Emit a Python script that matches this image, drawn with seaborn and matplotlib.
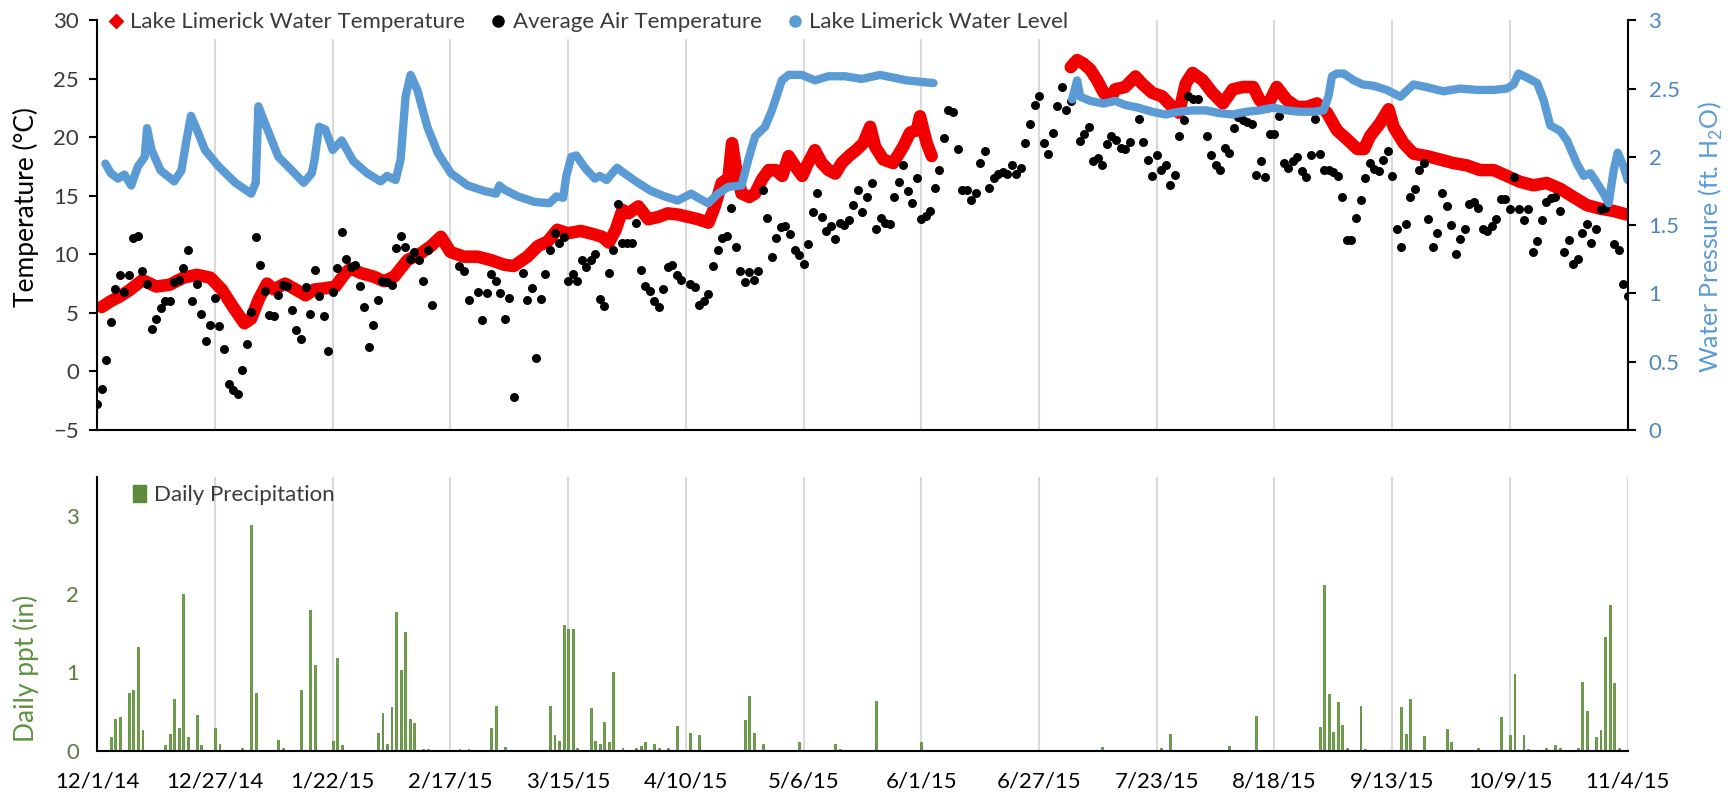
import pandas as pd
import seaborn as sns
import matplotlib.pyplot as plt
from matplotlib.lines import Line2D
from matplotlib.patches import Patch
from matplotlib.ticker import MultipleLocator

# x values are days since 12/1/14
date_labels = ['12/1/14', '12/27/14', '1/22/15', '2/17/15', '3/15/15', '4/10/15', '5/6/15',
               '6/1/15', '6/27/15', '7/23/15', '8/18/15', '9/13/15', '10/9/15', '11/4/15']
tick_days = [26 * i for i in range(len(date_labels))]

# average air temperature, one value per day (None = no reading)
air_temp_c = [
    -2.8, -1.5, 1.0, 4.2, 7.0, 8.25, 6.8, 8.2, 11.4, 11.6, 8.6, 7.5, 3.6,
    4.5, 5.4, 6.0, 6.0, 7.6, 7.8, 8.85, 10.4, 6.05, 7.5, 4.9, 2.55, 4.0,
    6.3, 3.9, 1.9, -1.1, -1.6, -1.9, 0.1, 2.3, 5.05, 11.5, 9.1, 6.9, 4.8,
    4.7, 6.5, 7.4, 7.3, 5.2, 3.5, 2.75, 7.25, 4.9, 8.7, 6.45, 4.7, 1.7,
    6.8, 8.85, 11.9, 9.6, 8.9, 9.1, 7.3, 5.5, 2.1, 4.0, 6.1, 7.7, 7.6,
    7.4, 10.5, 11.6, 10.6, 9.6, 10.2, 9.5, 7.7, 10.4, 5.7, None, None, None,
    None, None, 9.0, 8.6, 6.1, None, 6.8, 4.4, 6.7, 8.3, 7.7, 6.7, 4.5,
    6.3, -2.2, None, 8.4, 6.1, 7.1, 1.1, 6.2, 8.3, 10.4, 11.8, 11.0, 11.5,
    7.7, 8.3, 7.7, 9.5, 8.9, 9.5, 10.0, 6.2, 5.6, 8.4, 10.4, 14.3, 11.0,
    11.0, 11.0, 12.7, 8.7, 7.3, 6.9, 6.05, 5.5, 7.0, 8.9, 9.1, 8.2, 7.8,
    None, 7.5, 7.2, 5.7, 6.0, 6.6, 9.0, 10.4, 11.4, 11.6, 14.0, 10.6, 8.6,
    7.6, 8.45, 7.8, 8.6, 15.5, 13.1, 9.8, 11.4, 12.3, 12.4, 11.7, 10.4, 9.9,
    9.2, 10.9, 13.6, 15.2, 13.2, 12.0, 12.4, 11.3, 12.7, 12.5, 12.9, 14.2, 15.5,
    13.6, 14.9, 16.1, 12.2, 13.1, 12.7, 12.6, 14.9, 16.2, 17.6, 15.4, 14.4, 16.5,
    13.0, 13.3, 13.7, 15.7, 17.2, 19.9, 22.3, 22.2, 19.0, 15.5, 15.5, 14.6, 15.2,
    17.8, 18.8, 15.7, 16.5, 16.9, 17.0, 16.9, 17.6, 16.9, 17.4, 19.5, 21.1, 22.8,
    23.5, 19.5, 18.6, 20.4, 22.7, 24.3, 22.3, 23.1, None, 19.7, 20.3, 20.9, 18.0,
    18.2, 17.6, 19.4, 20.1, 19.8, 19.1, 19.0, 19.6, None, 21.6, 19.6, 18.1, 16.7,
    18.5, 17.2, 17.6, 15.9, 16.8, 20.1, 21.5, 23.5, 23.3, 23.3, None, 20.1, 18.5,
    17.6, 17.2, 19.1, 18.7, 20.8, 21.7, 21.5, 21.3, 21.1, 16.8, 18.0, 16.6, 20.3,
    20.3, 21.8, 17.8, 17.4, 18.0, 18.3, 17.1, 16.6, 18.5, 21.6, 18.6, 17.2, 17.2,
    17.0, 16.7, 14.9, 11.2, 11.2, 13.1, 14.6, 16.5, 17.8, 17.3, 17.1, 18.1, 18.8,
    16.7, 12.2, 10.6, 12.6, 14.9, 15.6, 17.2, 17.8, 13.0, 10.6, 11.8, 15.2, 14.1,
    12.5, 10.0, 11.3, 12.2, 14.3, 14.5, 14.0, 12.2, 12.0, 12.4, 13.0, 14.7, 14.7,
    13.9, 16.6, 13.9, 12.9, 13.9, 10.2, 11.1, 12.9, 14.5, 14.8, 14.9, 13.7, 10.2,
    11.2, 9.2, 9.6, 11.8, 12.6, 11.0, 12.2, 13.9, 14.0, None, 10.9, 10.4, 7.5,
    6.4,
]

# lake water temperature, logger record in two pieces
water_temp_day_1 = [1, 3, 5, 7, 10, 13, 16, 19, 22, 25, 27.5, 30, 32.5, 34, 35.6, 37.5, 39, 41.5,
                    43.8, 46, 48, 50.4, 52.6, 54.8, 56, 58.2, 61, 63.4, 65.6, 68.5, 71.5, 73.7,
                    75.9, 78, 81, 84, 87, 90, 92, 95, 97.3, 99.5, 101.6, 103.9, 106.8, 109.8,
                    111.5, 113, 114.5, 116, 117.3, 119.5, 121.7, 124, 126, 128.3, 130.5, 132.7,
                    135, 136.4, 137.9, 139.4, 140.2, 141, 142.3, 144, 145.3, 146.8, 148.3, 149.8,
                    151.3, 152.7, 154.2, 155.7, 157, 158.5, 160, 161.5, 163, 164.4, 166, 167.6,
                    169.2, 170.7, 171.8, 173.6, 175.8, 178, 179.5, 181, 181.7, 183.2, 184.3]
water_temp_c_1 = [5.5, 6.0, 6.4, 6.9, 7.8, 7.25, 7.4, 8.0, 8.25, 8.0, 7.0, 5.5, 4.1, 4.5, 6.1, 7.5, 7.0, 7.5,
                  7.0, 6.5, 7.0, 7.1, 7.25, 8.4, 8.8, 8.4, 8.1, 7.7, 8.1, 9.5, 10.1, 10.7,
                  11.5, 10.2, 9.8, 9.8, 9.5, 9.1, 9.0, 9.8, 10.7, 11.1, 12.1, 11.8, 12.0, 11.7,
                  11.5, 11.0, 12.1, 13.8, 13.5, 14.1, 13.0, 13.2, 13.5, 13.4, 13.2, 13.0,
                  12.7, 14.1, 16.1, 16.5, 19.5, 17.5, 15.2, 14.9, 15.2, 16.4, 17.2, 17.2,
                  16.7, 18.4, 17.5, 16.7, 17.8, 18.9, 17.8, 17.2, 16.9, 17.8, 18.4, 18.9,
                  19.5, 20.9, 19.2, 18.1, 17.8, 19.2, 20.4, 20.6, 21.8, 19.5, 18.4]
water_temp_day_2 = [215, 216.4, 217.8, 219.3, 220.8, 222.3, 223.7, 224.8, 227, 229.3, 230.7, 233,
                    235.2, 237.4, 238.9, 240.4, 241.9, 244.1, 246.3, 248.6, 250.8, 253, 255.3,
                    256.7, 258.3, 260.5, 262.7, 264.9, 267.2, 269.4, 271.6, 273.8, 276.1, 278.3,
                    279.8, 281.1, 283.3, 285.2, 286.3, 288.5, 290.7, 293.6, 296.6, 299.5, 302.5,
                    305.4, 308.4, 311.3, 314.2, 317.2, 320.1, 323.1, 326, 329, 331.9, 334.9, 337.8]
water_temp_c_2 = [26.0, 26.6, 26.3, 25.8, 24.9, 23.8, 23.2, 24.1, 24.3, 25.2, 24.6, 23.8,
                  23.5, 22.6, 22.1, 24.6, 25.5, 24.9, 23.8, 22.9, 24.1, 24.3, 24.3,
                  23.2, 22.6, 24.3, 23.2, 22.6, 22.6, 22.9, 22.1, 20.6, 19.8, 19.0,
                  19.0, 20.1, 21.2, 22.4, 20.9, 19.5, 18.6, 18.4, 18.1, 17.8, 17.6,
                  17.2, 17.2, 16.7, 16.2, 15.9, 16.1, 15.6, 14.9, 14.2, 13.9, 13.7, 13.4]

# lake water level (pressure, ft H2O), two pieces
water_level_day_1 = [1.8, 3, 4.6, 6, 7.5, 9, 10.5, 11, 12, 14, 17, 18.6, 19.7, 20.7, 22, 23.8, 26.8,
                     30.5, 34, 35, 35.6, 37, 40, 43, 45.6, 47.4, 48, 49, 50.4, 52, 54, 56.5, 59.6,
                     62.6, 64, 65.9, 67, 68.1, 69.2, 70.7, 72.9, 75.2, 78.1, 81.8, 85.5, 88.1,
                     88.8, 89.9, 92.9, 96.6, 99.9, 101.4, 102.9, 103.6, 104.7, 105.8, 107.7,
                     109.9, 111, 112.5, 113.5, 114.8, 116.4, 119.4, 122.3, 125.3, 128.2, 131.2,
                     132.7, 134.9, 137.1, 139.4, 142.3, 143.8, 145.3, 147.5, 149, 151.2, 152.7,
                     155.6, 158.5, 161.5, 165.2, 168.8, 172.9, 175.8, 178.8, 181.7, 184.7]
water_level_ft_1 = [1.95, 1.88, 1.84, 1.87, 1.79, 1.93, 2.0, 2.21, 2.05, 1.90, 1.82, 1.90, 2.12, 2.30, 2.20, 2.05, 1.93,
                    1.81, 1.73, 1.81, 2.37, 2.25, 2.0, 1.90, 1.81, 1.88, 1.98, 2.22, 2.20, 2.05, 2.12, 1.97, 1.88,
                    1.82, 1.86, 1.83, 1.98, 2.44, 2.60, 2.49, 2.22, 2.03, 1.88, 1.79, 1.75, 1.73,
                    1.79, 1.76, 1.71, 1.67, 1.66, 1.71, 1.70, 1.86, 2.0, 2.01, 1.92,
                    1.84, 1.86, 1.83, 1.87, 1.92, 1.88, 1.81, 1.75, 1.71, 1.68, 1.73,
                    1.70, 1.66, 1.73, 1.78, 1.79, 1.98, 2.15, 2.22, 2.34, 2.56, 2.60,
                    2.60, 2.56, 2.59, 2.59, 2.57, 2.60, 2.58, 2.56, 2.55, 2.54]
water_level_day_2 = [215.3, 216.4, 217.1, 219.3, 222.3, 224.8, 227, 229.9, 233, 235.9, 238.9, 241.9,
                     244.9, 247.8, 250.8, 253.7, 256.7, 259.7, 262.7, 265.6, 268.6, 270.8, 271.9,
                     272.7, 273.8, 275.3, 277.5, 279.5, 281.9, 284.8, 287.8, 290.7, 293.6, 297.3,
                     301, 304.7, 308.4, 311.3, 312.8, 313.9, 315.8, 318, 319.4, 320.9, 323.1, 324.6,
                     326.8, 328.3, 329.8, 331.2, 332.7, 333.8, 334.9, 335.8, 337.1, 338]
water_level_ft_2 = [2.42, 2.56, 2.44, 2.41, 2.39, 2.41, 2.38, 2.36, 2.33, 2.31, 2.33, 2.34,
                    2.34, 2.32, 2.31, 2.33, 2.34, 2.36, 2.34, 2.33, 2.33, 2.34, 2.44,
                    2.59, 2.61, 2.61, 2.56, 2.53, 2.52, 2.49, 2.44, 2.53, 2.51, 2.48,
                    2.50, 2.49, 2.49, 2.50, 2.53, 2.61, 2.58, 2.54, 2.42, 2.23, 2.19, 2.12,
                    1.95, 1.86, 1.88, 1.81, 1.73, 1.66, 1.90, 2.03, 1.93, 1.83]

# daily precipitation (in), only days with rain
precip_day = [3, 4, 5, 7, 8, 9, 10,
              15, 16, 17, 18, 19, 20, 22, 23,
              26, 27, 32, 34, 35,
              40, 41, 45, 47, 48,
              52, 53, 54,
              62, 63, 64, 65, 66, 67, 68, 69, 70,
              72, 73, 80, 82,
              87, 88, 90,
              100, 101, 102, 103, 104, 105, 106,
              109, 110, 111, 112, 113, 114, 116,
              119, 120, 121, 123, 124, 126, 128,
              131, 133,
              143, 144, 145, 147,
              155, 163, 164, 172, 182,
              222, 235, 237, 250, 256,
              270, 271, 272, 273, 274, 275, 276,
              279, 280,
              288, 289, 290, 293,
              298, 299, 305, 310, 312, 313, 315, 316,
              320, 322, 323, 327, 328, 329, 331, 332, 333, 334, 335, 336]
precip_in = [0.18, 0.40, 0.43, 0.74, 0.78, 1.33, 0.27,
             0.07, 0.21, 0.66, 0.29, 2.0, 0.18, 0.46, 0.07,
             0.29, 0.08, 0.04, 2.88, 0.74,
             0.14, 0.03, 0.78, 1.80, 1.09,
             0.12, 1.19, 0.07,
             0.22, 0.48, 0.09, 0.56, 1.77, 1.03, 1.52, 0.41, 0.36,
             0.02, 0.02, 0.02, 0.02,
             0.29, 0.57, 0.05,
             0.57, 0.20, 0.13, 1.60, 1.56, 1.56, 0.03,
             0.54, 0.13, 0.09, 0.37, 0.11, 1.0, 0.03,
             0.04, 0.06, 0.11, 0.09, 0.03, 0.03, 0.31,
             0.22, 0.20,
             0.39, 0.70, 0.22, 0.08,
             0.11, 0.09, 0.02, 0.63, 0.11,
             0.05, 0.03, 0.21, 0.06, 0.44,
             0.30, 2.12, 0.72, 0.24, 0.62, 0.33, 0.03,
             0.57, 0.02,
             0.56, 0.21, 0.66, 0.19,
             0.28, 0.11, 0.04, 0.43, 0.20, 0.98, 0.20, 0.02,
             0.03, 0.07, 0.03, 0.04, 0.88, 0.51, 0.17, 0.26, 1.45, 1.86, 0.87, 0.04]

RED = '#f20000'
BLUE = '#5b9bd5'
GREEN = '#72a34a'
GREEN_DARK = '#5a8a3a'
GRID = '#d9d9d9'
TEXT = '#3a3a3a'


def two_pieces(day_1, val_1, day_2, val_2, name):
    return pd.DataFrame({
        'day': list(day_1) + list(day_2),
        name: list(val_1) + list(val_2),
        'segment': [1] * len(day_1) + [2] * len(day_2),
    })


water_temp = two_pieces(water_temp_day_1, water_temp_c_1, water_temp_day_2, water_temp_c_2, 'temp')
water_level = two_pieces(water_level_day_1, water_level_ft_1, water_level_day_2, water_level_ft_2, 'level')
air = pd.DataFrame({'day': range(len(air_temp_c)), 'temp': air_temp_c}).dropna()
precip = pd.DataFrame({'day': precip_day, 'ppt': precip_in})

sns.set_style('white')
plt.rcParams['font.family'] = ['Lato', 'DejaVu Sans']
plt.rcParams['mathtext.fontset'] = 'custom'
plt.rcParams['mathtext.rm'] = 'Lato'

fig = plt.figure(figsize=(17.36, 7.96), dpi=100)
ax_t = fig.add_axes([0.056, 0.460, 0.8816, 0.5145])
ax_p = fig.add_axes([0.056, 0.0569, 0.8816, 0.3442])
ax_w = ax_t.twinx()

# top panel
sns.lineplot(data=water_temp, x='day', y='temp', units='segment', estimator=None, sort=False,
             color=RED, linewidth=9, solid_capstyle='round', ax=ax_t, legend=False)
sns.scatterplot(data=air, x='day', y='temp', color='black', s=42, linewidth=0,
                ax=ax_t, legend=False, zorder=3)
sns.lineplot(data=water_level, x='day', y='level', units='segment', estimator=None, sort=False,
             color=BLUE, linewidth=6, solid_capstyle='round', ax=ax_w, legend=False)

# bottom panel
sns.barplot(data=precip, x='day', y='ppt', native_scale=True, width=0.42, color=GREEN,
            saturation=1, errorbar=None, edgecolor=GREEN_DARK, linewidth=0.6, ax=ax_p)

for ax in (ax_t, ax_p):
    ax.set_xlim(0, 338)
    ax.set_xticks(tick_days)
    ax.grid(True, axis='x', color=GRID, linewidth=1.5)
    ax.grid(False, axis='y')
    ax.set_axisbelow(True)
    ax.set_xlabel('')
    for side in ('top', 'right'):
        ax.spines[side].set_visible(False)
    for side in ('left', 'bottom'):
        ax.spines[side].set_color('black')
        ax.spines[side].set_linewidth(1.5)
    ax.tick_params(axis='both', which='both', direction='out', length=6, width=1.5,
                   color='black', labelsize=16, pad=7)

ax_t.tick_params(axis='x', labelbottom=False)
ax_t.set_ylim(-5, 30)
ax_t.set_yticks(range(-5, 31, 5))
ax_t.tick_params(axis='y', labelcolor=TEXT)
ax_t.set_ylabel('Temperature (°C)', fontsize=19, color='black')
ax_t.yaxis.set_label_coords(-0.038, 0.545)

ax_w.set_ylim(0, 3)
w_ticks = [0, 0.5, 1, 1.5, 2, 2.5, 3]
ax_w.set_yticks(w_ticks)
ax_w.set_yticklabels([f'{v:g}' for v in w_ticks])
for side in ('top', 'left', 'bottom'):
    ax_w.spines[side].set_visible(False)
ax_w.spines['right'].set_color('black')
ax_w.spines['right'].set_linewidth(1.5)
ax_w.tick_params(axis='y', direction='out', length=6, width=1.5, color='black',
                 labelsize=16, labelcolor='#4f86c0', pad=9)
ax_w.set_ylabel('Water Pressure (ft. H$_\\mathrm{2}$O)', fontsize=18, color=BLUE)
ax_w.yaxis.set_label_coords(1.045, 0.47)

ax_p.set_ylim(0, 3.5)
ax_p.set_yticks([0, 1, 2, 3])
ax_p.yaxis.set_minor_locator(MultipleLocator(0.5))
ax_p.tick_params(axis='y', labelcolor='#5b7a40')
ax_p.tick_params(axis='x', labelcolor='black', pad=9)
ax_p.set_xticklabels(date_labels)
ax_p.set_ylabel('Daily ppt (in)', fontsize=19, color='#5f9140')
ax_p.yaxis.set_label_coords(-0.038, 0.3)

# legends
top_handles = [
    Line2D([], [], marker='D', color=RED, linestyle='none', markersize=7),
    Line2D([], [], marker='o', color='black', linestyle='none', markersize=8),
    Line2D([], [], marker='o', color=BLUE, linestyle='none', markersize=8),
]
top_labels = ['Lake Limerick Water Temperature', 'Average Air Temperature',
              'Lake Limerick Water Level']
leg = ax_w.legend(top_handles, top_labels, loc='center left', bbox_to_anchor=(0.004, 0.995),
                  ncol=3, frameon=True, facecolor='white', edgecolor='white', framealpha=1,
                  fancybox=False, fontsize=16, handlelength=0.6, handletextpad=0.35,
                  columnspacing=1.2, borderpad=0.25, borderaxespad=0, labelcolor=TEXT)

ax_p.legend([Patch(facecolor=GREEN_DARK, edgecolor=GREEN_DARK)], ['Daily Precipitation'],
            loc='center left', bbox_to_anchor=(0.01, 0.933), frameon=False, fontsize=16,
            handlelength=0.6, handleheight=0.8, handletextpad=0.35, labelcolor=TEXT)

fig.savefig('out.png', dpi=100)
